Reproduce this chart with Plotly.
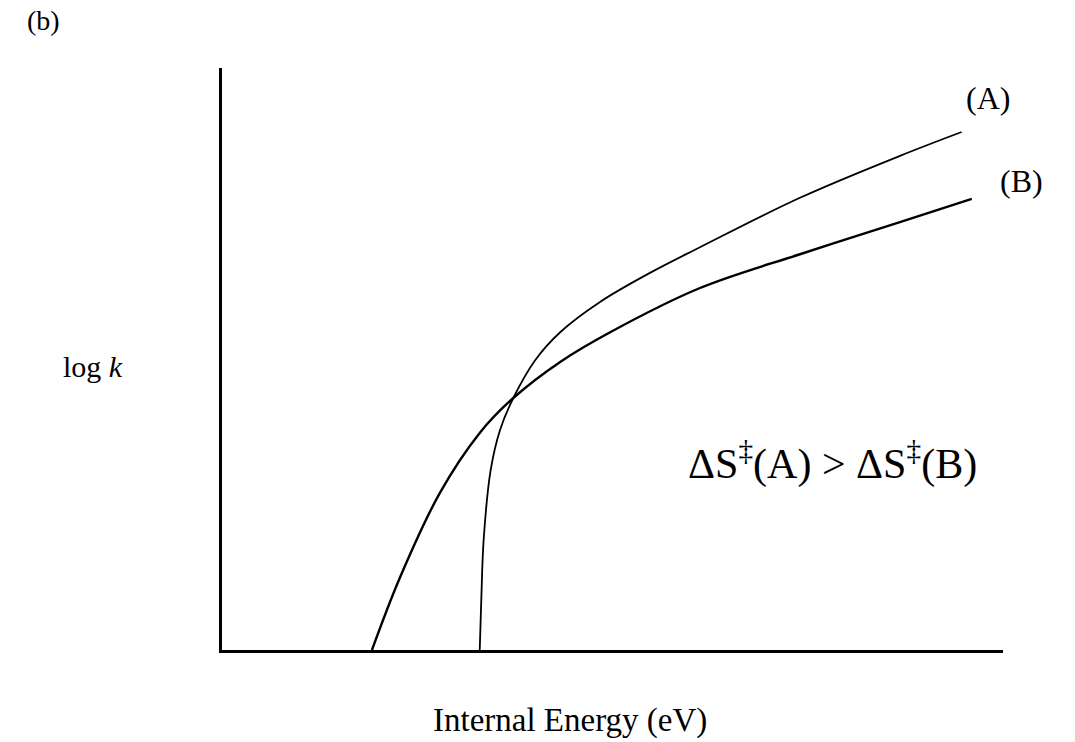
import plotly.graph_objects as go

# Curve (A): larger activation entropy, steeper rise
a_x = [3.30, 3.32, 3.35, 3.44, 3.56, 3.73, 4.01, 4.33, 4.84, 5.48, 6.12, 7.40, 8.68, 9.47]
a_y = [0.00, 0.86, 1.89, 3.09, 3.78, 4.33, 4.98, 5.46, 5.98, 6.48, 6.92, 7.77, 8.49, 8.90]

# Curve (B): lower activation entropy, earlier onset
b_x = [1.92, 2.28, 2.79, 3.30, 3.73, 4.33, 4.97, 6.12, 7.40, 8.68, 9.60]
b_y = [0.00, 1.25, 2.70, 3.73, 4.33, 4.95, 5.46, 6.22, 6.80, 7.35, 7.75]

W, H = 1075, 742
L, R, T, B = 222, 72, 68, 92

def px(xp):
    return (xp - L) / (W - L - R)

def py(yp):
    return (H - B - yp) / (H - T - B)

fig = go.Figure()
fig.add_trace(go.Scatter(x=a_x, y=a_y, mode="lines",
                         line=dict(color="black", width=1.8, shape="spline", smoothing=1.0),
                         hoverinfo="skip", showlegend=False))
fig.add_trace(go.Scatter(x=b_x, y=b_y, mode="lines",
                         line=dict(color="black", width=2.4, shape="spline", smoothing=1.0),
                         hoverinfo="skip", showlegend=False))

serif = "Liberation Serif"

annots = [
    dict(text="(b)", x=px(43), y=py(20), size=28),
    dict(text="log <i>k</i>", x=px(93), y=py(366), size=30),
    dict(text="(A)", x=px(988), y=py(98), size=32),
    dict(text="(B)", x=px(1021), y=py(181), size=32),
    dict(text="ΔS<sup>‡</sup>(A) > ΔS<sup>‡</sup>(B)", x=px(832), y=py(461), size=42),
    dict(text="Internal Energy (eV)", x=px(570), y=py(720), size=33),
]
ann = []
for a in annots:
    ann.append(dict(text=a["text"], x=a["x"], y=a["y"], xref="paper", yref="paper",
                    xanchor="center", yanchor="middle", showarrow=False,
                    font=dict(family=serif, size=a["size"], color="black")))

fig.update_layout(
    width=W, height=H,
    margin=dict(l=L, r=R, t=T, b=B),
    paper_bgcolor="white", plot_bgcolor="white",
    annotations=ann,
    xaxis=dict(range=[0, 10], showgrid=False, zeroline=False, showticklabels=False,
               ticks="", showline=True, linecolor="black", linewidth=2.5),
    yaxis=dict(range=[0, 10], showgrid=False, zeroline=False, showticklabels=False,
               ticks="", showline=True, linecolor="black", linewidth=2.5),
)

fig.write_html("out.html")
